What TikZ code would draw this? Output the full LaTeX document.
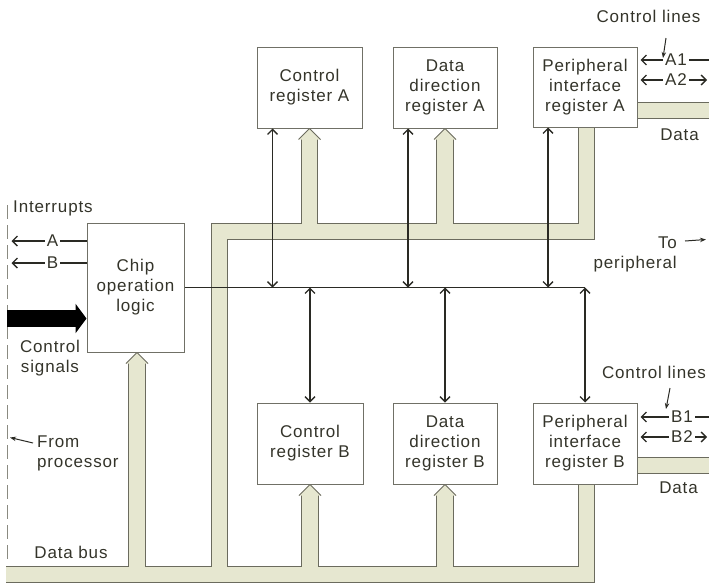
\documentclass[tikz,border=0pt]{standalone}
\usepackage{fontspec}
\setmainfont{Liberation Sans}[LetterSpace=5]
\usetikzlibrary{arrows.meta,calc,backgrounds}
\definecolor{ink}{HTML}{34342A}
\definecolor{wire}{HTML}{2A2A24}
\definecolor{bandfill}{HTML}{E6E7D0}
\definecolor{bandline}{HTML}{6B6B5E}
\definecolor{boxline}{HTML}{707066}
\definecolor{dashgray}{HTML}{8A8A80}
\begin{document}
\begin{tikzpicture}[x=1pt,y=-1pt,
  >={Straight Barb[length=5pt,width=10pt]},
  lbl/.style={font=\fontsize{17}{20}\selectfont, text=ink, inner sep=2pt, align=center},
  reg/.style={draw=boxline, line width=1pt, fill=white, font=\fontsize{17}{20}\selectfont, text=ink, align=center, inner sep=0pt},
  dbl/.style={draw=wire, line width=1.3pt, <->},
  sig/.style={draw=wire, line width=1.3pt},
  lead/.style={draw=wire, line width=1pt, -{Stealth[length=6pt,width=4.5pt]}},
  bandout/.style={draw=bandline, line width=17.5pt, line join=miter},
  bandin/.style={draw=bandfill, line width=15.5pt, line join=miter},
  bandtip/.style={fill=bandfill, draw=bandline, line width=1pt},
]
\useasboundingbox (0,0) rectangle (709,584);

% registers
\node[reg, minimum width=105pt, minimum height=81pt] (cra)  at (309.5,87.5) {Control\\register A};
\node[reg, minimum width=104pt, minimum height=81pt] (ddra) at (445,87.5) {Data\\direction\\register A};
\node[reg, minimum width=104pt, minimum height=80pt] (pira) at (585,87) {Peripheral\\interface\\register A};
\node[reg, minimum width=97pt, minimum height=129pt] (chip) at (135.5,287.5) {Chip\\operation\\logic};
\node[reg, minimum width=106pt, minimum height=81pt] (crb)  at (310,443.5) {Control\\register B};
\node[reg, minimum width=104pt, minimum height=81pt] (ddrb) at (445,443.5) {Data\\direction\\register B};
\node[reg, minimum width=104pt, minimum height=81pt] (pirb) at (585,443.5) {Peripheral\\interface\\register B};

% helper coordinates
\coordinate (busL) at (6,574.5);
\coordinate (busR) at (586.5,574.5);
\coordinate (upL) at (219.5,574.5);
\coordinate (upC) at (219.5,231.5);
\coordinate (upR) at (586.5,231.5);
\coordinate (chipB) at (137,574.5);
\coordinate (chipTip) at (chip.south -| chipB);
\coordinate (rE) at (712,0);
\coordinate (dA) at ($(pira.south east)+(0,-17)$);
\coordinate (dB) at ($(pirb.south east)+(0,-19)$);
\coordinate (lend) at (585,287.5);

% data bus bands
\begin{pgfonlayer}{background}
\foreach \st in {bandout,bandin}{
  \draw[\st] (busL) -- (busR) -- (busR |- pirb.south)
    (chipB) -- ($(chipTip)+(0,10)$)
    (upL) -- (upC) -- (upR) -- (upR |- pira.south)
    (cra.south |- upC) -- ($(cra.south)+(0,10)$)
    (ddra.south |- upC) -- ($(ddra.south)+(0,10)$)
    (crb.south |- busL) -- ($(crb.south)+(0,10)$)
    (ddrb.south |- busL) -- ($(ddrb.south)+(0,10)$)
    (dA) -- (dA -| rE)
    (dB) -- (dB -| rE);
}
\foreach \n in {cra,ddra,crb,ddrb}{
  \filldraw[bandtip] ($(\n.south)+(-11,11)$) -- (\n.south) -- ($(\n.south)+(11,11)$);
}
\filldraw[bandtip] ($(chipTip)+(-11,11)$) -- (chipTip) -- ($(chipTip)+(11,11)$);
\end{pgfonlayer}

% internal lines
\draw[sig] (chip.east) -- (lend);
\foreach \n in {cra,ddra,pira}{
  \draw[dbl] ($(\n.south)+(-37,0)$) coordinate (t\n) -- (t\n |- lend);
}
\foreach \n in {crb,ddrb,pirb}{
  \draw[dbl] (\n.north |- lend) -- (\n.north);
}

% left side
\coordinate (dl) at (7,0);
\coordinate (dli) at (11.5,0);
\draw[dashgray, line width=0.8pt, dash pattern=on 14pt off 6pt] (7,205) -- (7,562);
\node[lbl, anchor=west] (intr) at (11,208) {Interrupts};
\node[lbl] (la) at (52.5,241) {A};
\draw[sig] (chip.west |- la) -- (la);
\draw[sig,->] (la) -- (dli |- la);
\node[lbl] (lb) at (52.5,263) {B};
\draw[sig] (chip.west |- lb) -- (lb);
\draw[sig,->] (lb) -- (dli |- lb);
\coordinate (cs) at (0,318.5);
\draw[line width=17pt, black, -{Triangle[length=11pt,width=29pt]}] (dl |- cs) -- (chip.west |- cs);
\node[lbl] (csl) at (50,358) {Control\\signals};
\node[lbl, anchor=west, align=left] (fp) at (35,453.5) {From\\processor};
\coordinate (fpt) at (33,443);
\coordinate (fph) at (10,437.5);
\draw[lead] (fpt) -- (fph);
\node[lbl] (dbus) at (71,552) {Data bus};

% right side, port A
\node[lbl] (ctlA) at (648.5,16) {Control lines};
\coordinate (ldA1) at (666,38);
\coordinate (ldA2) at (663,58);
\draw[lead] (ldA1) -- (ldA2);
\node[lbl] (a1) at (676,60) {A1};
\draw[sig,->,shorten >=3pt] (a1) -- (pira.east |- a1);
\draw[sig] (a1) -- (rE |- a1);
\node[lbl] (a2) at (676,80) {A2};
\draw[sig,->,shorten >=3pt] (a2) -- (pira.east |- a2);
\draw[sig,->,shorten >=5pt] (a2) -- (rE |- a2);
\node[lbl] (datA) at (679.5,135) {Data};
\node[lbl, anchor=east, align=right] (tp) at (679,254) {To\\peripheral};
\coordinate (tpa) at (685,241);
\coordinate (tpb) at (706,239.5);
\draw[lead] (tpa) -- (tpb);

% right side, port B
\node[lbl] (ctlB) at (654,372) {Control lines};
\coordinate (ldB1) at (670,388);
\coordinate (ldB2) at (666,409);
\draw[lead] (ldB1) -- (ldB2);
\node[lbl] (b1) at (682,417) {B1};
\draw[sig,->,shorten >=3pt] (b1) -- (pirb.east |- b1);
\draw[sig] (b1) -- (rE |- b1);
\node[lbl] (b2) at (682,437) {B2};
\draw[sig,->,shorten >=3pt] (b2) -- (pirb.east |- b2);
\draw[sig,->,shorten >=5pt] (b2) -- (rE |- b2);
\node[lbl] (datB) at (678.5,488) {Data};
\end{tikzpicture}
\end{document}
